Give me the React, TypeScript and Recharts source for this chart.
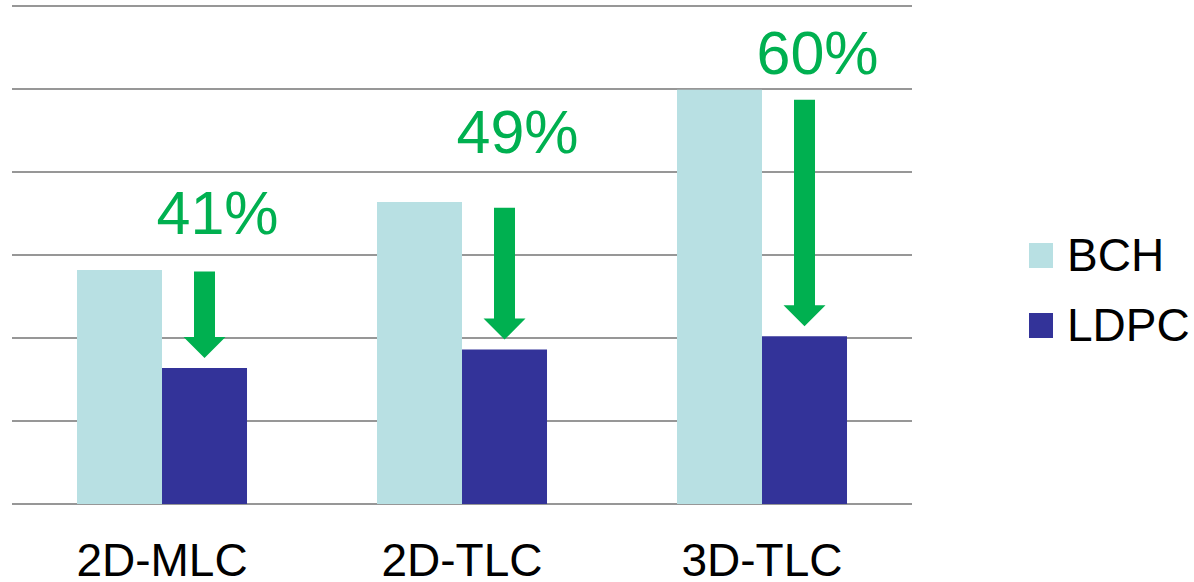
import React from 'react';
import { BarChart, Bar, XAxis, YAxis, CartesianGrid, LabelList } from 'recharts';

const categories = ['2D-MLC', '2D-TLC', '3D-TLC'];
const bchValues = [2.82, 3.64, 4.99];
const ldpcValues = [1.64, 1.86, 2.02];
const reductionLabels = ['41%', '49%', '60%'];
// annotation anchors in data units
const arrowFrom = [2.8, 3.57, 4.87];
const labelAt = [3.25, 4.23, 5.18];
const yTicks = [0, 1, 2, 3, 4, 5, 6];

const data = categories.map((name, i) => ({
  name,
  BCH: bchValues[i],
  LDPC: ldpcValues[i],
}));

const GREEN = '#00b050';
const FONT = '"Liberation Sans", Arial, sans-serif';

const ArrowLabel = (props: any) => {
  const { x, y, width, height, value, index } = props;
  if (index == null || !value) return null;
  const perUnit = height / value;
  const base = y + height;
  const cx = x + width / 2;
  const top = base - arrowFrom[index] * perUnit;
  const tip = y - 10;
  const headH = 21;
  const shaft = 10.5;
  const head = 21;
  const pts = [
    [cx - shaft, top],
    [cx + shaft, top],
    [cx + shaft, tip - headH],
    [cx + head, tip - headH],
    [cx, tip],
    [cx - head, tip - headH],
    [cx - shaft, tip - headH],
  ]
    .map((p) => p.join(','))
    .join(' ');
  return (
    <g>
      <polygon points={pts} fill={GREEN} />
      <text
        x={cx + 13}
        y={base - labelAt[index] * perUnit}
        textAnchor="middle"
        fontSize={61}
        fontFamily={FONT}
        fill={GREEN}
      >
        {reductionLabels[index]}
      </text>
    </g>
  );
};

const CategoryTick = (props: any) => {
  const { x, y, payload } = props;
  return (
    <text x={x} y={y + 64} textAnchor="middle" fontSize={46} fontFamily={FONT} fill="#000">
      {payload.value}
    </text>
  );
};

const legendItems = [
  { name: 'BCH', color: '#b8e0e3' },
  { name: 'LDPC', color: '#333399' },
];

export default function App() {
  return (
    <div style={{ position: 'relative', width: 1194, height: 582, background: '#fff' }}>
      <style>{'body{margin:0}'}</style>
      <BarChart
        width={1194}
        height={582}
        data={data}
        margin={{ top: 6, right: 282, left: 12, bottom: 0 }}
        barGap={0}
        barCategoryGap="21.67%"
      >
        <CartesianGrid horizontal vertical={false} stroke="#979797" strokeWidth={2} />
        <YAxis hide domain={[0, 6]} ticks={yTicks} />
        <XAxis
          dataKey="name"
          height={78}
          axisLine={false}
          tickLine={false}
          tick={<CategoryTick />}
          interval={0}
        />
        <Bar dataKey="BCH" fill="#b8e0e3" isAnimationActive={false} />
        <Bar dataKey="LDPC" fill="#333399" isAnimationActive={false}>
          <LabelList dataKey="LDPC" content={<ArrowLabel />} />
        </Bar>
      </BarChart>
      <div
        style={{
          position: 'absolute',
          left: 1029,
          top: 220,
          fontFamily: FONT,
          fontSize: 46,
          color: '#000',
        }}
      >
        {legendItems.map((it) => (
          <div key={it.name} style={{ display: 'flex', alignItems: 'center', height: 70 }}>
            <div style={{ width: 24, height: 25, background: it.color, marginRight: 14 }} />
            <span>{it.name}</span>
          </div>
        ))}
      </div>
    </div>
  );
}
